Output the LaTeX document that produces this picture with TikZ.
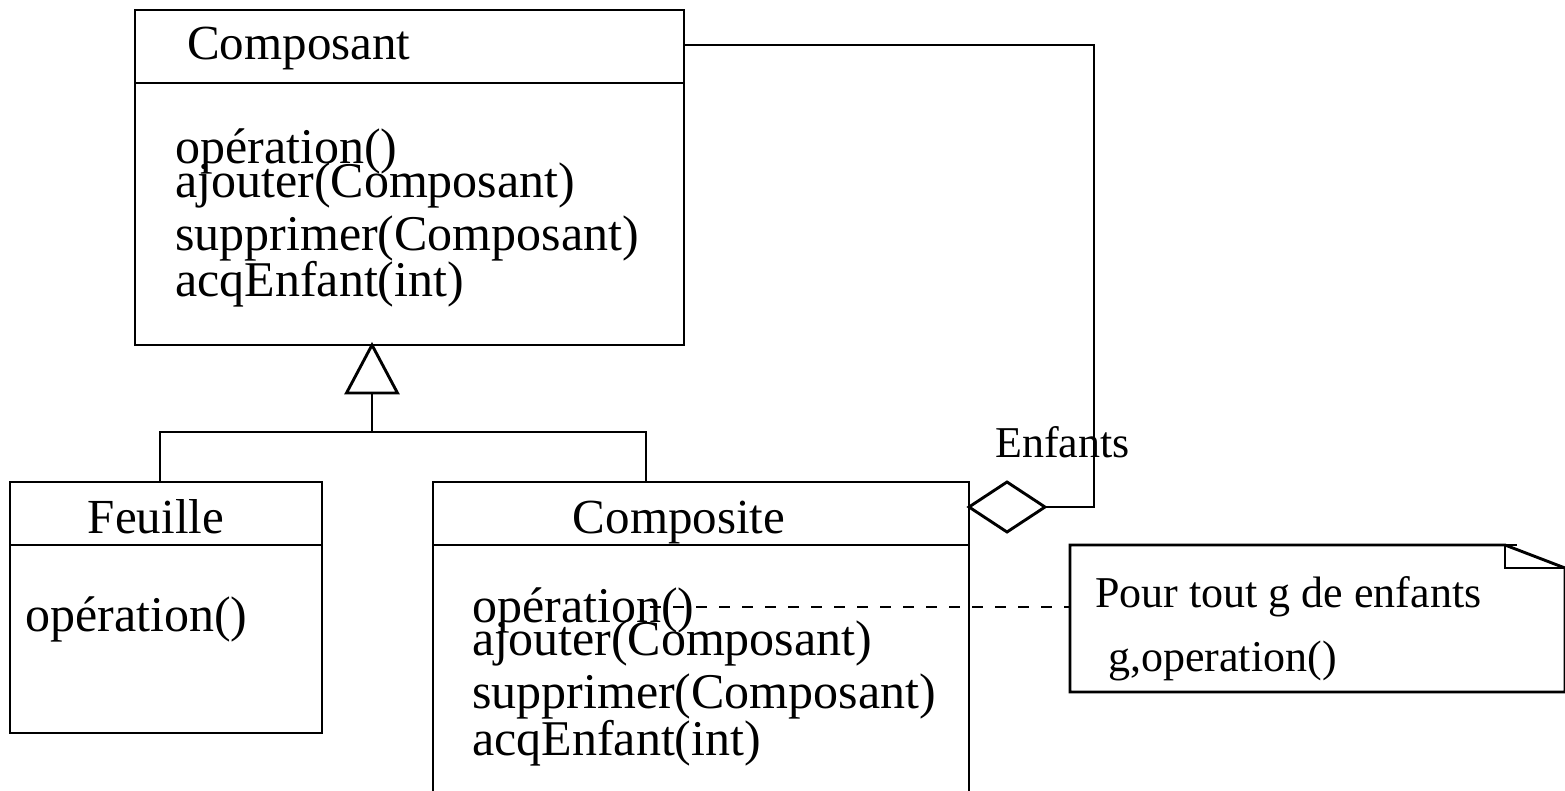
\documentclass[tikz,border=0pt]{standalone}
\usepackage{fontspec}
\setmainfont{Liberation Serif}
\begin{document}
\begin{tikzpicture}[x=1pt, y=-1pt,
  line/.style={draw, line width=2.9pt, line join=miter},
  classbox/.style={line, inner sep=0pt, outer sep=0pt, anchor=north west},
  big/.style={font=\fontsize{49}{53}\selectfont, inner sep=0pt},
  meth/.style={font=\fontsize{50}{54}\selectfont, inner sep=0pt, anchor=base west},
  mid/.style={font=\fontsize{44}{48}\selectfont, inner sep=0pt},
  dashline/.style={line width=2.4pt, dash pattern=on 11pt off 12pt}
]
\useasboundingbox (0,0) rectangle (1565,791);
\clip (0,0) rectangle (1565,791);
\fill[white] (0,0) rectangle (1565,791);

% --- class Composant
\node[classbox, minimum width=549pt, minimum height=335pt] (composant) at (135,10) {};
\draw[line] ([yshift=-73pt]composant.north west) -- ([yshift=-73pt]composant.north east);
\node[big, anchor=base west] (cname) at (187,60) {Composant};
\node[meth] (cm1) at (175,164) {opération()};
\node[meth] (cm2) at (175,198) {ajouter(Composant)};
\node[meth] (cm3) at (175,251) {supprimer(Composant)};
\node[meth] (cm4) at (175,297) {acqEnfant(int)};

% --- class Feuille
\node[classbox, minimum width=312pt, minimum height=251pt] (feuille) at (10,482) {};
\draw[line] ([yshift=-63pt]feuille.north west) -- ([yshift=-63pt]feuille.north east);
\node[big, anchor=base] (fname) at (156,533) {Feuille};
\node[meth] (fm1) at (25,631) {opération()};

% --- class Composite
\node[classbox, minimum width=536pt, minimum height=330pt] (composite) at (433,482) {};
\draw[line] ([yshift=-63pt]composite.north west) -- ([yshift=-63pt]composite.north east);
\node[big, anchor=base] (kname) at (679,533) {Composite};
\node[meth] (km1) at (472,622) {opération()};
\node[meth] (km2) at (472,655) {ajouter(Composant)};
\node[meth] (km3) at (472,708) {supprimer(Composant)};
\node[meth] (km4) at (472,755) {acqEnfant(int)};

% --- generalization: triangle and bus
\coordinate (apex) at ([xshift=-37.5pt]composant.south);
\draw[line, fill=white] (apex) -- ++(-25.5,48) -- ++(51,0) -- cycle;
\coordinate (tribase) at ([yshift=-48pt]apex);
\coordinate (bus) at (372,432);
\draw[line] (tribase) -- (bus);
\draw[line] ([xshift=-6pt]feuille.north) |- (bus) -| ([xshift=-55pt]composite.north);

% --- aggregation "Enfants"
\coordinate (dL) at ([yshift=-25pt]composite.north east);
\coordinate (dR) at ([xshift=76pt]dL);
\draw[line, fill=white] (dL) -- ++(38,-25) -- (dR) -- ++(-38,25) -- cycle;
\coordinate (turn) at (1094,45);
\coordinate (cE) at ([yshift=-35pt]composant.north east);
\draw[line] (dR) -| (turn) -- (cE);
\node[mid, anchor=base west] (enf) at (995,457) {Enfants};

% --- note with folded corner
\node[inner sep=0pt, outer sep=0pt, anchor=north west, minimum width=496pt, minimum height=147pt] (note) at (1070,545) {};
\draw[line] (note.north west) -- ([xshift=447pt]note.north west);
\draw[line] (note.north west) -- ([xshift=435pt]note.north west)
  -- ([xshift=-1pt, yshift=-23pt]note.north east)
  -- ([xshift=-1pt]note.south east) -- (note.south west) -- cycle;
\draw[line] ([xshift=435pt]note.north west) -- ([xshift=435pt, yshift=-23pt]note.north west)
  -- ([xshift=-1pt, yshift=-23pt]note.north east);
\node[mid, anchor=base west] (n1) at (1095,607) {Pour tout g de enfants};
\node[mid, anchor=base west] (n2) at (1108,671) {g,operation()};

% --- dashed link from operation() to the note
\coordinate (dstart) at (650,607);
\draw[dashline] (dstart) -- (dstart -| note.west);
\end{tikzpicture}
\end{document}
